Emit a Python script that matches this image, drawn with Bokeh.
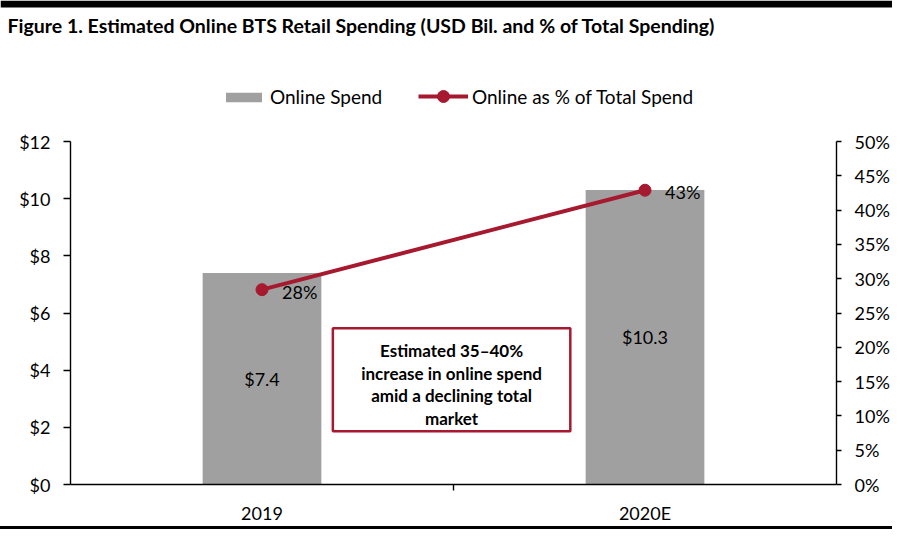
from bokeh.plotting import figure
from bokeh.layouts import column
from bokeh.models import (Range1d, LinearAxis, FixedTicker, NumeralTickFormatter, PrintfTickFormatter,
                          ColumnDataSource, LabelSet, Label, BoxAnnotation, Legend, LegendItem, Spacer)
from bokeh.core.properties import value
from bokeh.embed import file_html
from bokeh.resources import INLINE

# ---- data ----
categories = ["2019", "2020E"]
online_spend = [7.4, 10.3]          # USD bil.
online_share = [28.4, 42.9]         # % of total spend
spend_ticks = [0, 2, 4, 6, 8, 10, 12]
share_ticks = [0, 5, 10, 15, 20, 25, 30, 35, 40, 45, 50]
title_text = "Figure 1. Estimated Online BTS Retail Spending (USD Bil. and % of Total Spending)"
note_lines = ["Estimated 35\u201340%", "increase in online spend", "amid a declining total", "market"]
legend_labels = ["Online Spend", "Online as % of Total Spend"]

FONT = "Lato"
RED = "#A6192E"
GRAY = "#A0A0A0"
W = 892
HEAD_H = 129
MAIN_H = 397
FOOT_H = 3


def no_align(fig):
    if "frame_align" in fig.properties():
        fig.frame_align = False


xs = list(range(len(categories)))
src = ColumnDataSource(dict(
    x=xs,
    spend=online_spend,
    half=[v / 2 for v in online_spend],
    share=online_share,
    spend_lbl=[f"${v:.1f}" for v in online_spend],
    share_lbl=[f"{round(v)}%" for v in online_share],
))

# ---------------- header (title, top rule, legend) ----------------
head = figure(frame_width=W, frame_height=HEAD_H, output_backend="svg", toolbar_location=None,
              x_axis_type=None, y_axis_type=None,
              x_range=Range1d(0, W), y_range=Range1d(HEAD_H, 0),
              min_border_left=0, min_border_right=0, min_border_top=0, min_border_bottom=0)
no_align(head)
head.outline_line_color = None
head.background_fill_color = "white"
head.border_fill_color = "white"
head.add_layout(BoxAnnotation(left=0, right=W, top=0, bottom=7, fill_color="black",
                              fill_alpha=1.0, line_color=None))
head.add_layout(Label(x=7, y=25, text=title_text, text_baseline="middle", text_font=FONT,
                      text_font_size="19.5px", text_font_style="bold", text_color="black"))

nan = float("nan")
legend_src = ColumnDataSource(dict(x=[nan], y=[nan]))
lg_bar = head.vbar(x="x", top="y", width=1, source=legend_src, fill_color=GRAY, line_color=None)
lg_line = head.line(x="x", y="y", source=legend_src, line_color=RED, line_width=4)
lg_pt = head.scatter(x="x", y="y", source=legend_src, size=12, fill_color=RED, line_color=RED)

legend_common = dict(orientation="horizontal", label_standoff=4, padding=0, margin=0,
                     border_line_color=None, background_fill_alpha=0,
                     label_text_font=FONT, label_text_font_size="19px",
                     label_text_color="black", label_text_baseline="middle")
leg1 = Legend(items=[LegendItem(label=legend_labels[0], renderers=[lg_bar])],
              location=(221, 21), glyph_width=45, glyph_height=12, **legend_common)
leg2 = Legend(items=[LegendItem(label=legend_labels[1], renderers=[lg_line, lg_pt])],
              location=(418, 18), glyph_width=50, glyph_height=30, **legend_common)
head.add_layout(leg1)
head.add_layout(leg2)

# ---------------- main chart ----------------
p = figure(width=W, height=MAIN_H, output_backend="svg", toolbar_location=None,
           x_range=Range1d(-0.5, len(categories) - 0.5),
           y_range=Range1d(spend_ticks[0], spend_ticks[-1]),
           min_border_left=70, min_border_right=56, min_border_top=12, min_border_bottom=40)
no_align(p)
p.outline_line_color = None
p.xgrid.grid_line_color = None
p.ygrid.grid_line_color = None
p.background_fill_color = "white"
p.border_fill_color = "white"
p.extra_y_ranges = {"pct": Range1d(share_ticks[0], share_ticks[-1])}


def style_axis(ax):
    ax.axis_line_color = "black"
    ax.axis_line_width = 1.4
    ax.major_tick_line_color = "black"
    ax.major_tick_line_width = 1.4
    ax.major_label_text_font = FONT
    ax.major_label_text_font_size = "18px"
    ax.major_label_text_color = "black"


ly = p.yaxis[0]
ly.ticker = FixedTicker(ticks=spend_ticks)
ly.formatter = NumeralTickFormatter(format="$0")
style_axis(ly)
ly.major_tick_out = 7
ly.major_tick_in = 0
ly.minor_tick_line_color = None
ly.major_label_standoff = 13

ry = LinearAxis(y_range_name="pct", ticker=FixedTicker(ticks=share_ticks),
                formatter=PrintfTickFormatter(format="%d%%"))
style_axis(ry)
ry.major_tick_out = 5
ry.major_tick_in = 0
ry.minor_tick_line_color = None
ry.major_label_standoff = 13
p.add_layout(ry, "right")

bx = p.xaxis[0]
bx.ticker = FixedTicker(ticks=xs, minor_ticks=[i + 0.5 for i in xs[:-1]])
bx.major_label_overrides = {i: c for i, c in zip(xs, categories)}
style_axis(bx)
bx.major_tick_line_color = None
bx.major_tick_out = 0
bx.major_tick_in = 0
bx.minor_tick_line_color = "black"
bx.minor_tick_line_width = 1.4
bx.minor_tick_out = 6
bx.minor_tick_in = 0
bx.major_label_standoff = 11

bars = p.vbar(x="x", top="spend", width=0.31, source=src, fill_color=GRAY, line_color=None)
ln = p.line(x="x", y="share", y_range_name="pct", source=src, line_color=RED, line_width=4)
pts = p.scatter(x="x", y="share", y_range_name="pct", source=src, size=12,
                fill_color=RED, line_color=RED)

p.add_layout(LabelSet(x="x", y="half", text="spend_lbl", source=src, text_align="center",
                      text_baseline="middle", text_font=value(FONT), text_font_size=value("18px"),
                      text_color="black"))
p.add_layout(LabelSet(x="x", y="share", text="share_lbl", source=src, y_range_name="pct",
                      x_offset=20, y_offset=-2, text_align="left", text_baseline="middle",
                      text_font=value(FONT), text_font_size=value("18px"), text_color="black"))

p.add_layout(BoxAnnotation(left=0.185, right=0.805, bottom=1.86, top=5.47,
                           fill_color="white", fill_alpha=1.0, line_color=RED,
                           line_alpha=1.0, line_width=2.5))
offsets = [34, 11, -11, -34]
for t, off in zip(note_lines, offsets):
    p.add_layout(Label(x=0.495, y=3.5, y_offset=off, text=t, text_align="center",
                       text_baseline="middle", text_font=FONT, text_font_size="17px",
                       text_font_style="bold", text_color="black"))

# ---------------- footer rule ----------------
foot = Spacer(width=W, height=FOOT_H, styles={"background-color": "black"})

layout = column(head, p, foot, spacing=0)
open("out.html", "w").write(file_html(layout, INLINE))
